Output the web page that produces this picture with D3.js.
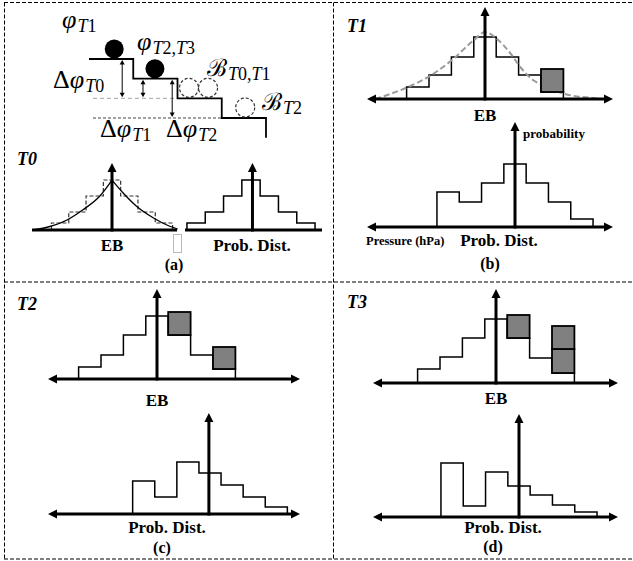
<!DOCTYPE html>
<html><head><meta charset="utf-8">
<script src="https://cdn.jsdelivr.net/npm/d3@7/dist/d3.min.js"></script>
<style>
body{margin:0;background:#fff}svg{display:block}
text{font-family:"Liberation Serif","Times New Roman","DejaVu Serif",serif}
text.scr{font-family:"DejaVu Serif",serif}
</style>
</head><body>
<svg id="c" width="633" height="561"></svg>
<script>
// ---------------- data ----------------
// histogram bin heights (7 bins, centre bin on the vertical axis)
const ebT0 = [0.07, 0.18, 0.34, 0.50, 0.34, 0.18, 0.07];
const pdT0 = [0.07, 0.18, 0.34, 0.50, 0.34, 0.18, 0.07];
const curveT0 = [[-4.6,0],[-3.7,0.03],[-2.6,0.10],[-1.7,0.20],[-0.7,0.34],[0,0.50],[0.7,0.36],[1.4,0.24],[2.4,0.12],[3.3,0.04],[3.8,0.01]];
const ebT1 = [0.12, 0.24, 0.42, 0.62, 0.42, 0.24, 0.07];
const boxesT1 = [[6, 0.07, 0.23]];           // [bin, base, height]
const curveT1 = [[-4.9,0],[-3.44,0.12],[-2.46,0.23],[-1.47,0.39],[-0.49,0.59],[0,0.67],[0.54,0.60],[1.12,0.46],[1.61,0.31],[2.14,0.19],[2.59,0.14],[3.57,0.05],[4.82,0.01],[5.2,0]];
const pdT1 = [0.35, 0.25, 0.44, 0.63, 0.44, 0.25, 0.08];
const ebT2 = [0.12, 0.24, 0.44, 0.63, 0.44, 0.24, 0.10];
const boxesT2 = [[4, 0.44, 0.23], [6, 0.10, 0.22]];
const pdT2 = [0.33, 0.17, 0.52, 0.41, 0.29, 0.17, 0.07];
const ebT3 = [0.14, 0.26, 0.45, 0.64, 0.45, 0.25, 0.10];
const boxesT3 = [[4, 0.45, 0.23], [6, 0.10, 0.24], [6, 0.34, 0.23]];
const pdT3 = [0.54, 0.11, 0.45, 0.31, 0.22, 0.12, 0.05];
// staircase schematic (step index, level)
const stairLevels = [3, 2, 1, 0];
const ballsSolid = [[0.57, 3], [1.49, 2]];
const ballsDashed = [[2.26, 1], [2.69, 1], [3.53, 0]];
const gapArrows = [[0.75, 3, 1], [1.22, 2, 1], [1.88, 2, 0]];
const refLines = [[1, 0.09, 2, "light"], [0, 0.09, 3, "dark"]];

// ---------------- drawing ----------------
const svg = d3.select("#c");

// frame
const fr = svg.append("g").attr("stroke", "#000").attr("stroke-width", 1)
  .attr("stroke-dasharray", "4,2").attr("fill", "none");
fr.append("line").attr("x1", 4).attr("y1", 2.5).attr("x2", 633).attr("y2", 2.5);
fr.append("line").attr("x1", 4).attr("y1", 559).attr("x2", 633).attr("y2", 559);
fr.append("line").attr("x1", 4.5).attr("y1", 2.5).attr("x2", 4.5).attr("y2", 559);
fr.append("line").attr("x1", 333.5).attr("y1", 2.5).attr("x2", 333.5).attr("y2", 559);
fr.append("line").attr("x1", 4).attr("y1", 282).attr("x2", 633).attr("y2", 282);

function head(g, x, y, dir, len, hw) {
  len = len || 9; hw = hw || 4.5;
  let p;
  if (dir === "up") p = [[x, y], [x - hw, y + len], [x + hw, y + len]];
  if (dir === "down") p = [[x, y], [x - hw, y - len], [x + hw, y - len]];
  if (dir === "left") p = [[x, y], [x + len, y - hw], [x + len, y + hw]];
  if (dir === "right") p = [[x, y], [x - len, y - hw], [x - len, y + hw]];
  g.append("path").attr("d", d3.line()(p) + "Z").attr("fill", "#000");
}

function drawPanel(p) {
  const g = svg.append("g");
  const n = p.values.length, h = n / 2;
  const x = d3.scaleLinear().domain([-h, h]).range([p.cx - h * p.binW, p.cx + h * p.binW]);
  const y = d3.scaleLinear().domain([0, 1]).range([p.base, p.base - 100]);
  const pts = [[x(-h), y(0)]];
  p.values.forEach((v, i) => { pts.push([x(i - h), y(v)], [x(i + 1 - h), y(v)]); });
  pts.push([x(h), y(0)]);
  g.append("path").attr("d", d3.line()(pts)).attr("fill", "none")
    .attr("stroke", p.dashed ? "#333" : "#000")
    .attr("stroke-width", p.dashed ? 1.2 : 1.5)
    .attr("stroke-dasharray", p.dashed ? "4,2" : null);
  if (p.curve) {
    const ln = d3.line().x(d => x(d[0])).y(d => y(d[1])).curve(d3.curveMonotoneX);
    const style = sel => sel.attr("fill", "none")
      .attr("stroke", p.curveDashed ? "#9a9a9a" : "#000")
      .attr("stroke-width", p.curveDashed ? 2 : 1.3)
      .attr("stroke-dasharray", p.curveDashed ? "6,3" : null);
    if (p.sharp) {
      const k = p.curve.findIndex(d => d[0] === 0);
      g.append("path").attr("d", ln(p.curve.slice(0, k + 1))).call(style);
      g.append("path").attr("d", ln(p.curve.slice(k))).call(style);
    } else {
      g.append("path").attr("d", ln(p.curve)).call(style);
    }
  }
  (p.boxes || []).forEach(([b, b0, bh]) => {
    g.append("rect").attr("x", x(b - h)).attr("y", y(b0 + bh))
      .attr("width", x(b + 1 - h) - x(b - h)).attr("height", y(b0) - y(b0 + bh))
      .attr("fill", "#808080").attr("stroke", "#000").attr("stroke-width", 1.8);
  });
  // axes
  const ax = g.append("g");
  const L = p.arrows ? p.axL + 8 : p.axL, R = p.arrows ? p.axR - 8 : p.axR;
  ax.append("line").attr("x1", L).attr("x2", R).attr("y1", p.base).attr("y2", p.base)
    .attr("stroke", "#000").attr("stroke-width", 3);
  if (p.arrows) { head(ax, p.axL, p.base, "left"); head(ax, p.axR, p.base, "right"); }
  const vx = x(p.axisOff || 0);
  ax.append("line").attr("x1", vx).attr("x2", vx).attr("y1", p.base + 1.5).attr("y2", p.vTop + 8)
    .attr("stroke", "#000").attr("stroke-width", 3);
  head(ax, vx, p.vTop, "up");
}

drawPanel({values: ebT0, dashed: true, cx: 112, binW: 17.3, base: 230, axL: 32, axR: 177, vTop: 163, curve: curveT0, sharp: true});
drawPanel({values: pdT0, cx: 251, binW: 18.3, base: 230, axL: 185, axR: 322, vTop: 163, axisOff: 0.08});
drawPanel({values: ebT1, boxes: boxesT1, cx: 485, binW: 22.4, base: 99, axL: 367, axR: 613, arrows: true, vTop: 7, curve: curveT1, curveDashed: true});
drawPanel({values: pdT1, cx: 515, binW: 22.3, base: 227, axL: 367, axR: 613, arrows: true, vTop: 122});
drawPanel({values: ebT2, boxes: boxesT2, cx: 157, binW: 22.4, base: 379, axL: 48, axR: 300, arrows: true, vTop: 289});
drawPanel({values: pdT2, cx: 210, binW: 22.1, base: 514, axL: 48, axR: 300, arrows: true, vTop: 413, axisOff: -0.05});
drawPanel({values: ebT3, boxes: boxesT3, cx: 496, binW: 22.4, base: 383, axL: 373, axR: 618, arrows: true, vTop: 289});
drawPanel({values: pdT3, cx: 519, binW: 22.3, base: 517, axL: 373, axR: 618, arrows: true, vTop: 414});

// small light rectangle in panel (a)
svg.append("rect").attr("x", 173.5).attr("y", 234.5).attr("width", 8).attr("height", 18)
  .attr("fill", "none").attr("stroke", "#bbb").attr("stroke-width", 1);

// ---- staircase schematic ----
const sx = d3.scaleLinear().domain([0, 4]).range([89, 266]);
const sy = d3.scaleLinear().domain([0, 3]).range([118, 59]);
const st = svg.append("g");
refLines.forEach(([lv, a, b, kind]) => {
  st.append("line").attr("x1", sx(a)).attr("x2", sx(b)).attr("y1", sy(lv)).attr("y2", sy(lv))
    .attr("stroke", kind === "light" ? "#b5b5b5" : "#444").attr("stroke-width", 1.2)
    .attr("stroke-dasharray", kind === "light" ? "4,3" : "3,2");
});
const sp = [];
stairLevels.forEach((lv, i) => { sp.push([sx(i), sy(lv)], [sx(i + 1), sy(lv)]); });
sp.push([sx(4), sy(-1)]);
st.append("path").attr("d", d3.line()(sp)).attr("fill", "none").attr("stroke", "#000").attr("stroke-width", 1.8);
gapArrows.forEach(([s, a, b]) => {
  const X = sx(s), y1 = sy(a), y2 = sy(b);
  st.append("line").attr("x1", X).attr("x2", X).attr("y1", y1 + 4).attr("y2", y2 - 4)
    .attr("stroke", "#000").attr("stroke-width", 1);
  head(st, X, y1 + 1, "up", 4.5, 2.5);
  head(st, X, y2 - 1, "down", 4.5, 2.5);
});
ballsSolid.forEach(([s, lv]) => {
  st.append("circle").attr("cx", sx(s)).attr("cy", sy(lv) - 10).attr("r", 9.5).attr("fill", "#000");
});
ballsDashed.forEach(([s, lv]) => {
  st.append("circle").attr("cx", sx(s)).attr("cy", sy(lv) - 10.5).attr("r", 9.5).attr("fill", "none")
    .attr("stroke", "#333").attr("stroke-width", 1.2).attr("stroke-dasharray", "3,2");
});

// math labels
function mathLabel(x, y, main, sub, opts) {
  opts = opts || {};
  const t = svg.append("text").attr("x", x).attr("y", y)
    .attr("font-size", opts.size || 26).attr("fill", "#000");
  main.forEach(([s, it]) => {
    const m = t.append("tspan").text(s).attr("font-style", it ? "italic" : "normal");
    if (opts.scr) m.attr("class", "scr").style("font-family", "'DejaVu Serif',serif");
  });
  let first = true;
  sub.split("").forEach(ch => {
    const ts = t.append("tspan").text(ch).attr("font-size", opts.subSize || 18)
      .attr("font-style", /[A-Z]/.test(ch) ? "italic" : "normal");
    if (first) { ts.attr("dy", opts.dy || 4).attr("dx", 1); first = false; }
  });
}
mathLabel(62, 28, [["φ", true]], "T1");
mathLabel(137, 50, [["φ", true]], "T2,T3");
mathLabel(53, 88, [["Δ", false], ["φ", true]], "T0");
mathLabel(100, 137, [["Δ", false], ["φ", true]], "T1");
mathLabel(166, 137, [["Δ", false], ["φ", true]], "T2");
mathLabel(207, 76, [["ℬ", false]], "T0,T1", {size: 24, scr: true});
mathLabel(262, 110, [["ℬ", false]], "T2", {size: 24, scr: true});

// plain labels
function label(x, y, s, size, anchor, style) {
  svg.append("text").attr("x", x).attr("y", y).text(s)
    .attr("font-size", size).attr("font-weight", "bold").attr("font-style", style || "normal")
    .attr("text-anchor", anchor || "middle").attr("fill", "#000");
}
label(17, 165, "T0", 18, "start", "italic");
label(347, 32, "T1", 18, "start", "italic");
label(17, 310, "T2", 18, "start", "italic");
label(347, 308, "T3", 18, "start", "italic");
label(112, 251, "EB", 17);
label(252, 251, "Prob. Dist.", 17);
label(174, 270, "(a)", 16);
label(485, 121, "EB", 17);
label(523, 138, "probability", 13, "start");
label(366, 245, "Pressure (hPa)", 12.5, "start");
label(499, 246, "Prob. Dist.", 17);
label(490, 269, "(b)", 16);
label(157, 406, "EB", 17);
label(167, 533, "Prob. Dist.", 17);
label(162, 553, "(c)", 16);
label(496, 404, "EB", 17);
label(503, 533, "Prob. Dist.", 17);
label(493, 552, "(d)", 16);
</script>
</body></html>
